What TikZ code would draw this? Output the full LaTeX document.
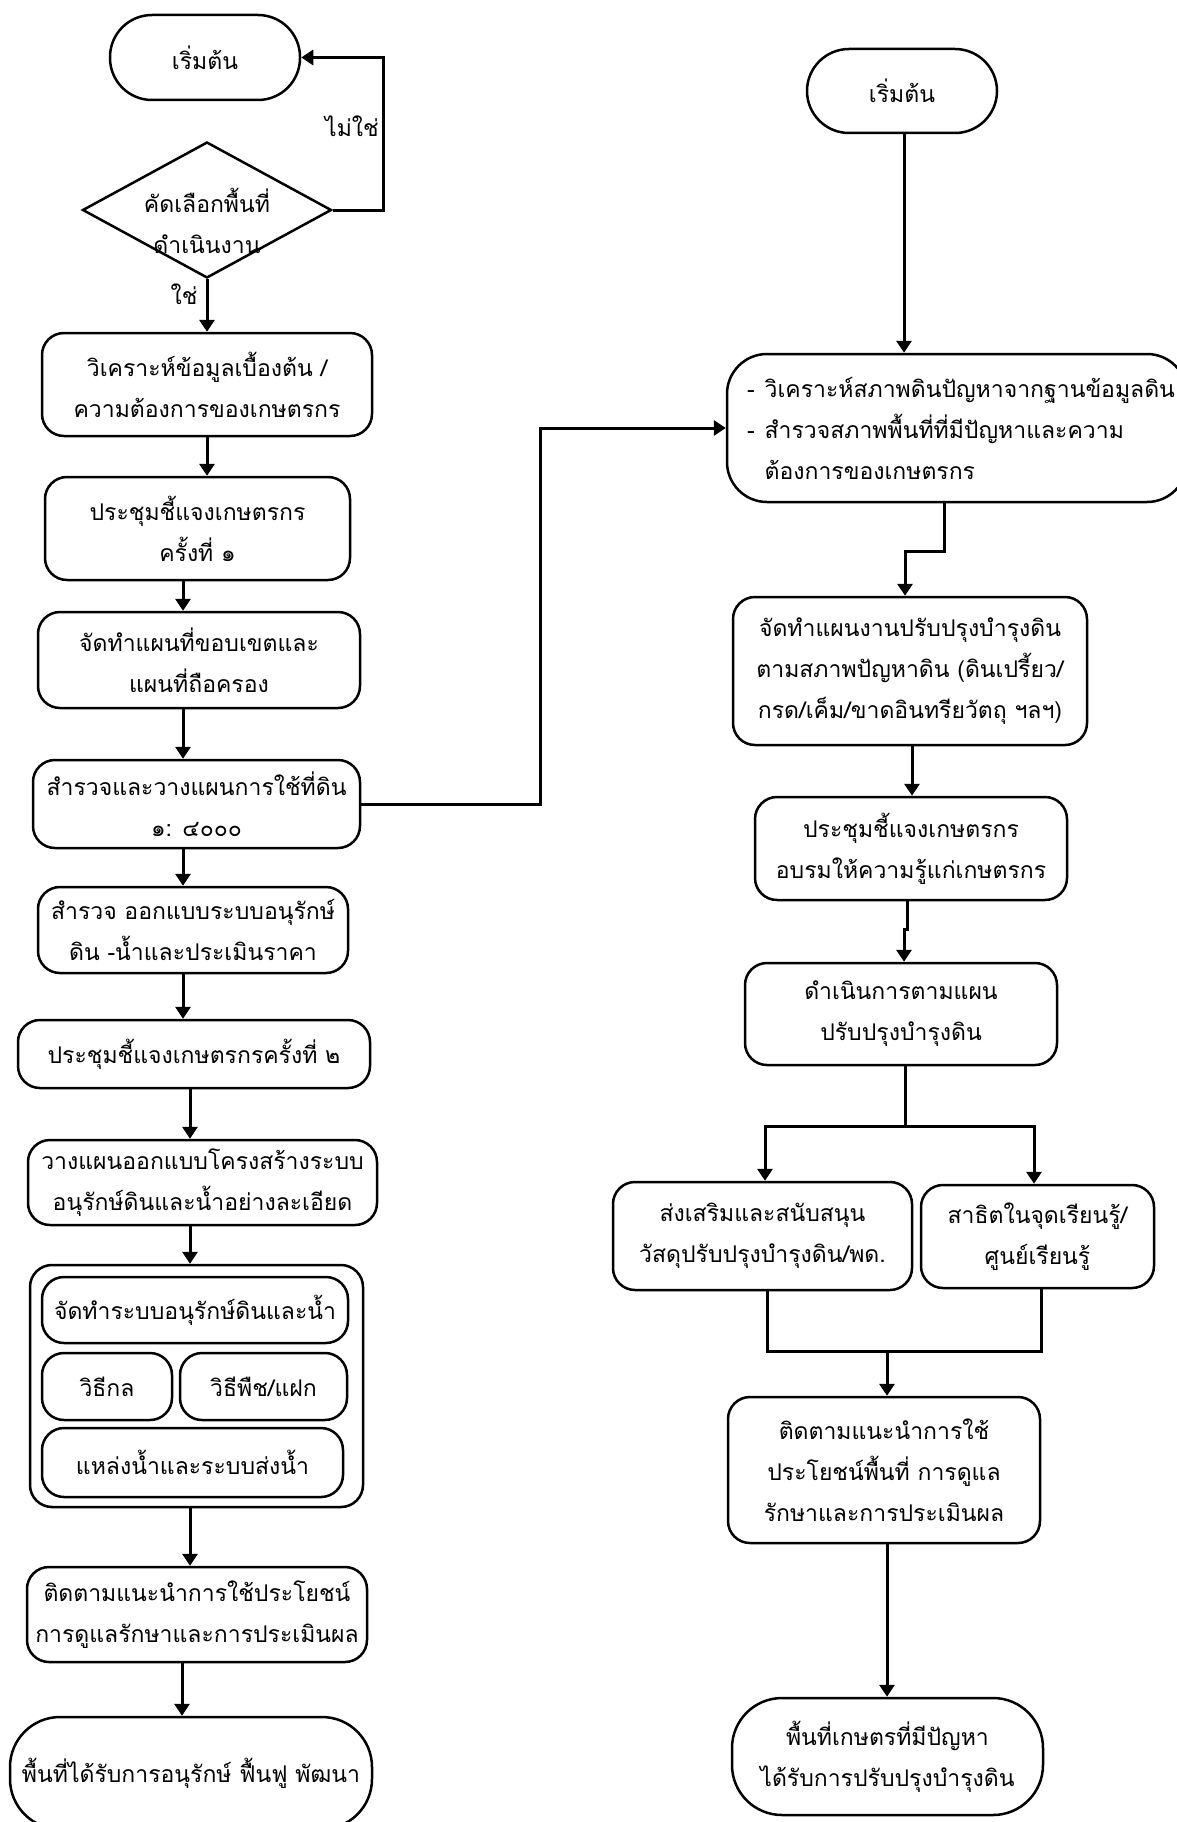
\documentclass[tikz,border=0pt]{standalone}
\usepackage{fontspec}
\newfontfamily\thai[Script=Thai]{Loma}
\usetikzlibrary{shapes.geometric,arrows.meta}
\begin{document}
\begin{tikzpicture}[x=1pt,y=-1pt,
  every node/.style={font=\thai\fontsize{23}{41}\selectfont},
  box/.style={draw, line width=2.5pt, rounded corners=22pt, align=center, inner sep=0pt},
  conn/.style={line width=3pt, -{Triangle[width=15pt,length=12pt]}},
  plain/.style={line width=3pt}]
\useasboundingbox (0,0) rectangle (1176,1822);
% ---------------- left column ----------------
\node[box, rounded corners=42pt, minimum width=190pt, minimum height=85pt] (S1) at (205,57.5) {เริ่มต้น};
\node[draw, diamond, line width=2.5pt, minimum width=249pt, minimum height=136pt, inner sep=0pt] (D) at (207,210) {};
\node[align=center, inner sep=0pt] (Dt) at (207,221) {คัดเลือกพื้นที่\\ดำเนินงาน};
\node[box, minimum width=330pt, minimum height=103pt] (L3) at (207,384.5) {วิเคราะห์ข้อมูลเบื้องต้น /\\ความต้องการของเกษตรกร};
\node[box, minimum width=305pt, minimum height=103pt] (L4) at (197.5,528.5) {ประชุมชี้แจงเกษตรกร\\ครั้งที่ ๑};
\node[box, minimum width=322pt, minimum height=96pt] (L5) at (199,660) {จัดทำแผนที่ขอบเขตและ\\แผนที่ถือครอง};
\node[box, minimum width=327pt, minimum height=88pt] (L6) at (196.5,804) {สำรวจและวางแผนการใช้ที่ดิน\\๑: ๔๐๐๐};
\node[box, minimum width=310pt, minimum height=86pt] (L7) at (193,930) {สำรวจ ออกแบบระบบอนุรักษ์\\ดิน -น้ำและประเมินราคา};
\node[box, minimum width=352pt, minimum height=68pt] (L8) at (194,1054) {ประชุมชี้แจงเกษตรกรครั้งที่ ๒};
\node[box, minimum width=349pt, minimum height=85pt] (L9) at (202.5,1182.5) {วางแผนออกแบบโครงสร้างระบบ\\อนุรักษ์ดินและน้ำอย่างละเอียด};
\node[box, minimum width=333pt, minimum height=242pt] (G) at (196.5,1386) {};
\node[box, minimum width=306pt, minimum height=66pt] (Ga) at (195,1310) {จัดทำระบบอนุรักษ์ดินและน้ำ};
\node[box, minimum width=130pt, minimum height=67pt] (Gb) at (107,1386.5) {วิธีกล};
\node[box, minimum width=167pt, minimum height=67pt] (Gc) at (263.5,1386.5) {วิธีพืช/แฝก};
\node[box, minimum width=301pt, minimum height=69pt] (Gd) at (192.5,1462.5) {แหล่งน้ำและระบบส่งน้ำ};
\node[box, minimum width=340pt, minimum height=95pt] (L11) at (197,1614.5) {ติดตามแนะนำการใช้ประโยชน์\\การดูแลรักษาและการประเมินผล};
\node[box, rounded corners=50pt, minimum width=362pt, minimum height=112pt] (L12) at (191,1773) {พื้นที่ได้รับการอนุรักษ์ ฟื้นฟู พัฒนา};
\node[inner sep=0pt] (no) at (352,126) {ไม่ใช่};
\node[inner sep=0pt] (yes) at (184,294) {ใช่};
% left connectors
\draw[conn] (D.south) -- (D.south |- L3.north);
\draw[conn] (D.east) -- ++(51,0) |- (S1.east);
\draw[conn] (L3.south) -- (L3.south |- L4.north);
\draw[conn] ([xshift=-14.5pt]L4.south) -- ([xshift=-14.5pt]L4.south |- L5.north);
\draw[conn] ([xshift=-16pt]L5.south) -- ([xshift=-16pt]L5.south |- L6.north);
\draw[conn] ([xshift=-13.5pt]L6.south) -- ([xshift=-13.5pt]L6.south |- L7.north);
\draw[conn] ([xshift=-10pt]L7.south) -- ([xshift=-10pt]L7.south |- L8.north);
\draw[conn] ([xshift=-4pt]L8.south) -- ([xshift=-4pt]L8.south |- L9.north);
\draw[conn] ([xshift=-12.5pt]L9.south) -- ([xshift=-12.5pt]L9.south |- G.north);
\draw[conn] ([xshift=-6.5pt]G.south) -- ([xshift=-6.5pt]G.south |- L11.north);
\draw[conn] ([xshift=-15pt]L11.south) -- ([xshift=-15pt]L11.south |- L12.north);
% ---------------- right column ----------------
\node[box, rounded corners=42pt, minimum width=190pt, minimum height=84pt] (R1) at (902,91) {เริ่มต้น};
\node[draw, line width=2.5pt, rounded corners=40pt, minimum width=460pt, minimum height=148pt, inner xsep=20pt, inner ysep=0pt, text width=420pt, align=left] (R2) at (957,428)
  {-\hspace{10pt}วิเคราะห์สภาพดินปัญหาจากฐานข้อมูลดิน\\-\hspace{10pt}สำรวจสภาพพื้นที่ที่มีปัญหาและความ\\\phantom{-}\hspace{10pt}ต้องการของเกษตรกร};
\node[box, minimum width=354pt, minimum height=148pt] (R3) at (910,671) {จัดทำแผนงานปรับปรุงบำรุงดิน\\ตามสภาพปัญหาดิน (ดินเปรี้ยว/\\กรด/เค็ม/ขาดอินทรียวัตถุ ฯลฯ)};
\node[box, minimum width=312pt, minimum height=103pt] (R4) at (911,848.5) {ประชุมชี้แจงเกษตรกร\\อบรมให้ความรู้แก่เกษตรกร};
\node[box, minimum width=312pt, minimum height=102pt] (R5) at (901,1014) {ดำเนินการตามแผน\\ปรับปรุงบำรุงดิน};
\node[box, minimum width=299pt, minimum height=108pt] (R6) at (762.5,1236) {ส่งเสริมและสนับสนุน\\วัสดุปรับปรุงบำรุงดิน/พด.};
\node[box, minimum width=233pt, minimum height=103pt] (R7) at (1037.5,1236.5) {สาธิตในจุดเรียนรู้/\\ศูนย์เรียนรู้};
\node[box, minimum width=312pt, minimum height=146pt] (R8) at (884,1470) {ติดตามแนะนำการใช้\\ประโยชน์พื้นที่ การดูแล\\รักษาและการประเมินผล};
\node[box, rounded corners=50pt, minimum width=311pt, minimum height=117pt] (R9) at (887.5,1756.5) {พื้นที่เกษตรที่มีปัญหา\\ได้รับการปรับปรุงบำรุงดิน};
\coordinate (j) at (905,1126);
\coordinate (m) at (887,1351);
% right connectors
\draw[conn] (L6.east) -- ++(179,0) |- (R2.west);
\draw[conn] ([xshift=2pt]R1.south) -- ([xshift=2pt]R1.south |- R2.north);
\draw[conn] ([xshift=-13pt]R2.south) -- ++(0,48) -| ([xshift=-5pt]R3.north);
\draw[conn] ([xshift=2pt]R3.south) -- ([xshift=2pt]R3.south |- R4.north);
\draw[conn] ([xshift=-4pt]R4.south) -- ++(0,28) -| ([xshift=3pt]R5.north);
\draw[plain] ([xshift=4pt]R5.south) -- (j);
\draw[conn] (j) -| ([xshift=2.5pt]R6.north);
\draw[conn] (j) -| ([xshift=-3.5pt]R7.north);
\draw[plain] ([xshift=4.5pt]R6.south) |- (m);
\draw[plain] ([xshift=3.5pt]R7.south) |- (m);
\draw[conn] (m) -- (m |- R8.north);
\draw[conn] ([xshift=3pt]R8.south) -- ([xshift=3pt]R8.south |- R9.north);
\end{tikzpicture}
\end{document}
